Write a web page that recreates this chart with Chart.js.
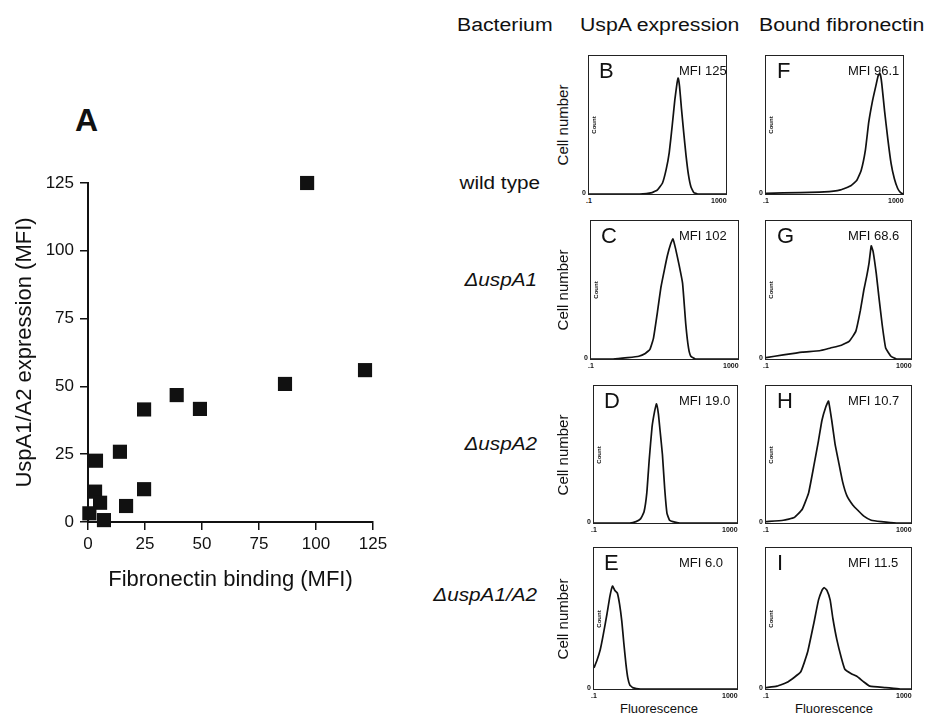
<!DOCTYPE html>
<html lang="en">
<head>
<meta charset="UTF-8" />
<title>UspA1/A2 expression and fibronectin binding</title>
<style>
  body { margin: 0; background: #fff; font-family: "Liberation Sans", Arial, sans-serif; color: #111; }
  .page { position: relative; width: 930px; height: 715px; overflow: hidden; }
  .txt { position: absolute; line-height: 1; white-space: nowrap; }
  .wide { font-size: 18px; transform: scaleX(1.18); transform-origin: left center; }
  .rowlab { position: absolute; width: 200px; text-align: right; line-height: 1; white-space: nowrap;
            font-size: 18px; transform: scaleX(1.15); transform-origin: right center; }
  .vert { position: absolute; width: 140px; text-align: center; line-height: 1; white-space: nowrap;
          transform: translate(-50%, -50%) rotate(-90deg); }
  .box { position: absolute; border: 1.5px solid #222; box-sizing: border-box; }
  .box .plot { position: absolute; left: 0; top: 0; right: 0; bottom: 0; }
  .letter { position: absolute; font-size: 22px; line-height: 1; }
  .mfi { position: absolute; font-size: 13px; line-height: 1; white-space: nowrap; }
  .tiny { position: absolute; font-size: 7px; font-weight: bold; line-height: 1; }
  #scatterWrap { position: absolute; left: 0; top: 150px; width: 400px; height: 456px; }
</style>
</head>
<body>
<div class="page" id="page">
  <div class="txt wide" style="left:457px; top:16px;">Bacterium</div>
  <div class="txt wide" style="left:580px; top:16px;">UspA expression</div>
  <div class="txt wide" style="left:759px; top:16px;">Bound fibronectin</div>

  <div class="txt" style="left:75px; top:104px; font-size:32px; font-weight:bold;">A</div>

  <div class="rowlab" style="left:340px; top:174px;">wild type</div>
  <div class="rowlab" style="left:337px; top:271px;"><i>ΔuspA1</i></div>
  <div class="rowlab" style="left:337px; top:435px;"><i>ΔuspA2</i></div>
  <div class="rowlab" style="left:337px; top:586px;"><i>ΔuspA1/A2</i></div>

  <div class="txt" style="left:620px; top:702px; font-size:13px;">Fluorescence</div>
  <div class="txt" style="left:795px; top:702px; font-size:13px;">Fluorescence</div>

  <div id="scatterWrap"><canvas id="scatter"></canvas></div>
</div>

<script src="https://cdn.jsdelivr.net/npm/chart.js@4.4.0/dist/chart.umd.min.js"></script>
<script>
  // panel A: each square is one strain
  const fibronectinMFI = [96.1, 121.5, 86.4, 38.9, 49.1, 24.6, 14.0, 3.5, 3.1, 24.6, 16.7, 5.3, 0.6, 7.0];
  const uspaMFI = [125, 56.0, 50.9, 46.8, 41.7, 41.5, 25.9, 22.6, 11.2, 12.1, 5.9, 7.1, 3.2, 0.7];
  const axisTicks = [0, 25, 50, 75, 100, 125];

  // flow cytometry histograms (fluorescence, cell count as % of panel height)
  const fluorB = [0.1, 3, 7, 10, 14, 18, 22, 27, 32, 37, 40, 44, 50, 58, 68, 80, 95, 115, 150, 1000];
  const countB = [0, 0, 1, 3, 8, 18, 30, 50, 68, 80, 84, 78, 62, 45, 28, 14, 5, 1, 0, 0];
  const fluorF = [0.1, 1, 5, 15, 30, 45, 60, 80, 100, 130, 160, 190, 215, 240, 290, 360, 450, 560, 700, 850, 1000];
  const countF = [0.5, 1, 1.5, 3, 6, 10, 17, 32, 52, 68, 78, 86, 87, 80, 60, 40, 22, 11, 4, 1, 0];
  const fluorC = [0.1, 0.4, 1, 2, 3, 4, 5, 6.5, 8, 10, 12, 15, 17, 20, 25, 31, 38, 45, 52, 70, 1000];
  const countC = [0, 0, 1, 2, 4, 7, 15, 35, 52, 65, 75, 84, 87, 80, 68, 55, 25, 8, 2, 0, 0];
  const fluorG = [0.1, 0.3, 1, 3, 6, 12, 20, 30, 40, 50, 60, 70, 80, 90, 110, 130, 160, 200, 280, 400, 1000];
  const countG = [1, 3, 5, 6, 8, 10, 13, 20, 35, 50, 60, 70, 82, 78, 62, 45, 25, 8, 2, 0, 0];
  const fluorD = [0.1, 1, 1.5, 2, 2.5, 3, 3.5, 4.2, 5, 5.6, 6.3, 7.2, 8.2, 9.5, 11, 13, 16, 25, 1000];
  const countD = [0, 0, 1, 3, 8, 22, 46, 70, 82, 87, 80, 65, 50, 25, 7, 2, 1, 0, 0];
  const fluorH = [0.1, 0.3, 0.6, 1, 1.5, 2.1, 2.8, 3.5, 4.5, 5.3, 6.5, 8, 10, 13, 17, 25, 35, 50, 80, 150, 400, 1000];
  const countH = [1, 2, 4, 10, 22, 42, 60, 75, 85, 89, 75, 58, 45, 30, 20, 13, 9, 5, 2, 1, 0, 0];
  const fluorE = [0.1, 0.12, 0.15, 0.18, 0.23, 0.28, 0.33, 0.38, 0.45, 0.52, 0.6, 0.68, 0.78, 0.88, 1, 1.2, 2, 1000];
  const countE = [15, 20, 28, 38, 53, 66, 73, 70, 68, 60, 48, 33, 18, 8, 3, 1, 0, 0];
  const fluorI = [0.1, 0.2, 0.4, 0.9, 1.4, 2.1, 2.8, 3.5, 4, 4.8, 5.9, 7, 9, 12, 15, 22, 32, 50, 73, 200, 500, 1000];
  const countI = [1, 2, 5, 12, 26, 47, 63, 70, 72, 70, 63, 50, 35, 22, 14, 11, 9, 5, 2, 1, 0, 0];

  const panelLetters = ["B", "F", "C", "G", "D", "H", "E", "I"];
  const panelMFI = ["MFI 125", "MFI 96.1", "MFI 102", "MFI 68.6", "MFI 19.0", "MFI 10.7", "MFI 6.0", "MFI 11.5"];
  const panelFluor = [fluorB, fluorF, fluorC, fluorG, fluorD, fluorH, fluorE, fluorI];
  const panelCount = [countB, countF, countC, countG, countD, countH, countE, countI];

  const FONT = "'Liberation Sans', Arial, sans-serif";

  // scatter, panel A
  new Chart(document.getElementById("scatter"), {
    type: "scatter",
    data: {
      datasets: [{
        data: fibronectinMFI.map((x, i) => ({ x: x, y: uspaMFI[i] })),
        pointStyle: "rect",
        pointRadius: 10,
        pointHoverRadius: 10,
        backgroundColor: "#111",
        borderColor: "#111",
        borderWidth: 0,
        clip: false,
      }],
    },
    options: {
      responsive: true,
      maintainAspectRatio: false,
      animation: false,
      layout: { padding: { top: 33, right: 27, left: 0, bottom: 0 } },
      plugins: { legend: { display: false }, tooltip: { enabled: false } },
      scales: {
        x: {
          type: "linear", min: 0, max: 125,
          afterBuildTicks: (s) => { s.ticks = axisTicks.map((v) => ({ value: v })); },
          afterFit: (s) => { s.height = 84; },
          grid: { drawOnChartArea: false, drawTicks: true, tickLength: 8, color: "#111", lineWidth: 1.5 },
          border: { color: "#111", width: 2 },
          ticks: { color: "#111", padding: 4, maxRotation: 0, font: { family: FONT, size: 17 } },
          title: { display: true, text: "Fibronectin binding (MFI)", color: "#111",
                   font: { family: FONT, size: 22 }, padding: { top: 0, bottom: 13 } },
        },
        y: {
          type: "linear", min: 0, max: 125,
          afterBuildTicks: (s) => { s.ticks = axisTicks.map((v) => ({ value: v })); },
          afterFit: (s) => { s.width = 88; },
          grid: { drawOnChartArea: false, drawTicks: true, tickLength: 8, color: "#111", lineWidth: 1.5 },
          border: { color: "#111", width: 2 },
          ticks: { color: "#111", padding: 6, font: { family: FONT, size: 17 } },
          title: { display: true, text: "UspA1/A2 expression (MFI)", color: "#111",
                   font: { family: FONT, size: 22 }, padding: { top: 12, bottom: 0 } },
        },
      },
    },
  });

  // histogram boxes: B F / C G / D H / E I
  const boxes = [
    [588, 55, 139, 140], [765, 55, 139, 140],
    [590, 220, 149, 140], [765, 220, 147, 140],
    [593, 385, 145, 139], [765, 385, 147, 139],
    [593, 547, 145, 143], [765, 547, 147, 143],
  ];
  const page = document.getElementById("page");

  function addText(cls, txt, css) {
    const d = document.createElement("div");
    d.className = cls;
    d.textContent = txt;
    Object.assign(d.style, css);
    page.appendChild(d);
    return d;
  }

  boxes.forEach((b, i) => {
    const [left, top, w, h] = b;
    const rightCol = i % 2 === 1;
    const box = document.createElement("div");
    box.className = "box";
    Object.assign(box.style, { left: left + "px", top: top + "px", width: w + "px", height: h + "px" });
    box.innerHTML =
      '<div class="plot"><canvas id="hist' + i + '"></canvas></div>' +
      '<div class="letter" style="left:' + (rightCol ? 11 : 10) + 'px; top:4px;">' + panelLetters[i] + "</div>" +
      '<div class="mfi" style="left:' + (rightCol ? 82 : 678 - left) + 'px; top:8px;">' + panelMFI[i] + "</div>";
    page.appendChild(box);

    // tiny axis labels of the cytometer output
    addText("tiny", ".1", { left: left - 2 + "px", top: top + h + 2 + "px" });
    addText("tiny", "1000", { left: left + w - 16 + "px", top: top + h + 2 + "px" });
    addText("tiny", "0", { left: left - 6 + "px", top: top + h - 6 + "px" });
    const c = addText("vert tiny", "Count", { left: left + 6 + "px", top: top + h / 2 + "px", width: "30px" });
    c.style.fontSize = "6px";
    if (!rightCol) {
      const cn = addText("vert", "Cell number", { left: "562px", top: top + h / 2 + "px" });
      cn.style.fontSize = "15px";
    }

    new Chart(document.getElementById("hist" + i), {
      type: "line",
      data: {
        datasets: [{
          data: panelFluor[i].map((x, k) => ({ x: x, y: panelCount[i][k] })),
          borderColor: "#111",
          borderWidth: 1.7,
          pointRadius: 0,
          tension: 0.12,
          fill: false,
        }],
      },
      options: {
        responsive: true,
        maintainAspectRatio: false,
        animation: false,
        layout: { padding: 0 },
        plugins: { legend: { display: false }, tooltip: { enabled: false } },
        scales: {
          x: { type: "logarithmic", min: 0.1, max: 1000, display: false },
          y: { type: "linear", min: 0, max: 100, display: false },
        },
      },
    });
  });
</script>
</body>
</html>
